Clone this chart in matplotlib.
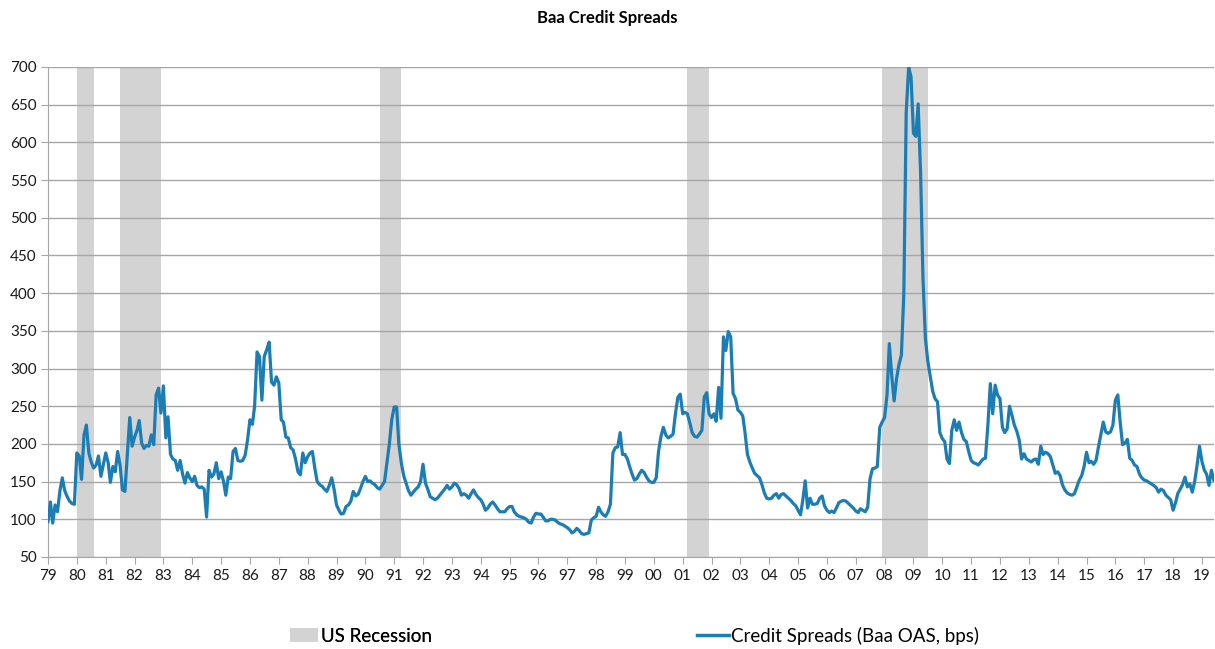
import numpy as np
import pandas as pd
import matplotlib
matplotlib.use("Agg")
import matplotlib.pyplot as plt
import matplotlib.dates as mdates
from matplotlib.patches import Patch
from matplotlib.lines import Line2D

# monthly Baa OAS (bps), Jan..Dec
y1979 = [97, 123, 95, 119, 110, 138, 155, 138, 130, 124, 121, 120]
y1980 = [188, 184, 153, 212, 225, 188, 176, 168, 172, 184, 157, 172]
y1981 = [188, 175, 149, 170, 163, 190, 172, 139, 137, 185, 235, 197]
y1982 = [209, 218, 231, 201, 194, 198, 197, 212, 199, 265, 274, 241]
y1983 = [277, 208, 236, 186, 180, 178, 165, 178, 160, 148, 162, 155]
y1984 = [150, 157, 145, 142, 143, 140, 103, 165, 156, 160, 175, 154]
y1985 = [163, 150, 132, 156, 154, 190, 194, 178, 177, 178, 185, 205]
y1986 = [232, 226, 250, 322, 316, 258, 316, 325, 335, 282, 278, 289]
y1987 = [281, 232, 229, 209, 208, 195, 192, 180, 163, 159, 188, 175]
y1988 = [183, 188, 190, 168, 150, 146, 144, 140, 137, 145, 155, 140]
y1989 = [119, 112, 107, 108, 117, 119, 124, 137, 131, 133, 141, 150]
y1990 = [157, 150, 151, 148, 146, 142, 140, 145, 150, 175, 200, 232]
y1991 = [249, 249, 200, 175, 158, 148, 138, 132, 136, 140, 143, 150]
y1992 = [173, 148, 140, 130, 128, 126, 128, 132, 136, 140, 145, 140]
y1993 = [143, 148, 146, 141, 132, 134, 132, 128, 134, 139, 133, 129]
y1994 = [126, 120, 112, 115, 120, 123, 119, 114, 110, 110, 110, 114]
y1995 = [117, 117, 110, 106, 104, 103, 102, 100, 96, 95, 103, 108]
y1996 = [107, 107, 103, 98, 98, 100, 100, 99, 96, 94, 93, 91]
y1997 = [89, 86, 82, 84, 88, 85, 81, 80, 81, 82, 99, 102]
y1998 = [104, 116, 110, 106, 104, 110, 120, 188, 195, 196, 215, 186]
y1999 = [186, 180, 170, 160, 152, 154, 160, 165, 162, 156, 151, 149]
y2000 = [149, 155, 190, 210, 222, 212, 208, 210, 213, 240, 262, 266]
y2001 = [240, 242, 240, 228, 215, 210, 209, 213, 218, 262, 268, 240]
y2002 = [235, 240, 230, 275, 234, 342, 324, 349, 342, 267, 260, 245]
y2003 = [242, 237, 215, 186, 176, 168, 161, 158, 155, 146, 135, 128]
y2004 = [127, 128, 132, 134, 128, 133, 134, 131, 128, 125, 121, 118]
y2005 = [112, 106, 125, 151, 115, 128, 120, 120, 121, 128, 131, 118]
y2006 = [112, 109, 111, 109, 115, 122, 124, 125, 124, 121, 118, 115]
y2007 = [111, 109, 114, 112, 110, 116, 154, 167, 168, 170, 222, 229]
y2008 = [235, 265, 333, 290, 257, 287, 305, 318, 400, 640, 700, 687]
y2009 = [612, 608, 651, 560, 420, 340, 310, 290, 270, 260, 256, 215]
y2010 = [207, 203, 180, 174, 218, 232, 218, 229, 215, 206, 203, 190]
y2011 = [178, 175, 174, 172, 176, 180, 181, 225, 280, 240, 278, 265]
y2012 = [260, 222, 215, 220, 250, 238, 225, 217, 205, 180, 187, 180]
y2013 = [178, 176, 179, 180, 173, 197, 186, 189, 187, 183, 172, 161]
y2014 = [163, 158, 146, 139, 135, 133, 132, 134, 143, 152, 158, 170]
y2015 = [189, 175, 177, 173, 178, 196, 212, 229, 216, 214, 216, 225]
y2016 = [258, 265, 230, 199, 201, 206, 181, 178, 172, 170, 160, 155]
y2017 = [152, 151, 149, 147, 145, 142, 136, 140, 138, 132, 129, 126]
y2018 = [112, 122, 134, 140, 146, 156, 143, 147, 136, 150, 172, 197]
y2019 = [177, 165, 160, 145, 165, 152]

spreads = (y1979 + y1980 + y1981 + y1982 + y1983 + y1984 + y1985 + y1986
           + y1987 + y1988 + y1989 + y1990 + y1991 + y1992 + y1993 + y1994
           + y1995 + y1996 + y1997 + y1998 + y1999 + y2000 + y2001 + y2002
           + y2003 + y2004 + y2005 + y2006 + y2007 + y2008 + y2009 + y2010
           + y2011 + y2012 + y2013 + y2014 + y2015 + y2016 + y2017 + y2018
           + y2019)
dates = pd.date_range("1979-01-01", periods=len(spreads), freq="MS")

recessions = [("1980-01-01", "1980-08-01"), ("1981-07-01", "1982-12-01"),
              ("1990-07-01", "1991-04-01"), ("2001-03-01", "2001-12-01"),
              ("2007-12-01", "2009-07-01")]

plt.rcParams["font.family"] = ["Lato", "DejaVu Sans"]

line_col = "#1a7db5"
rec_col = "#d3d3d3"
grid_col = "#a6a6a6"

fig = plt.figure(figsize=(12.15, 6.49), dpi=100)
ax = fig.add_axes([48 / 1215, 1 - 557 / 649, (1214 - 48) / 1215, (557 - 67) / 649])

for s, e in recessions:
    ax.axvspan(pd.Timestamp(s), pd.Timestamp(e), color=rec_col, lw=0, zorder=0.2)
ax.plot(dates, spreads, color=line_col, lw=2.3, zorder=3)

ax.set_ylim(50, 700)
ax.set_yticks(np.arange(50, 701, 50))
ax.set_xlim(pd.Timestamp("1979-01-01"), pd.Timestamp("2019-06-03"))
ax.xaxis.set_major_locator(mdates.YearLocator())
ax.xaxis.set_major_formatter(mdates.DateFormatter("%y"))

ax.set_axisbelow(True)
ax.grid(axis="y", color=grid_col, lw=1)
for side in ["top", "right"]:
    ax.spines[side].set_visible(False)
for side in ["left", "bottom"]:
    ax.spines[side].set_color(grid_col)
ax.tick_params(axis="both", colors=grid_col, length=5, labelcolor="#1a1a1a", labelsize=11)
ax.tick_params(axis="y", pad=3)

fig.text(0.5, 1 - 18 / 649, "Baa Credit Spreads", ha="center", va="center",
         fontsize=12, fontweight="bold")

leg1 = fig.legend(handles=[Patch(color=rec_col, lw=0)], labels=["US Recession"],
                  loc="center left", bbox_to_anchor=(290 / 1215, 1 - 636 / 649),
                  frameon=False, fontsize=13.5, handlelength=1.5, handleheight=0.7,
                  handletextpad=0.15, borderpad=0, borderaxespad=0)
leg2 = fig.legend(handles=[Line2D([], [], color=line_col, lw=2.5)],
                  labels=["Credit Spreads (Baa OAS, bps)"],
                  loc="center left", bbox_to_anchor=(697 / 1215, 1 - 636 / 649),
                  frameon=False, fontsize=13.5, handlelength=1.7,
                  handletextpad=0.1, borderpad=0, borderaxespad=0)
fig.add_artist(leg1)

fig.savefig("out.png", dpi=100)
